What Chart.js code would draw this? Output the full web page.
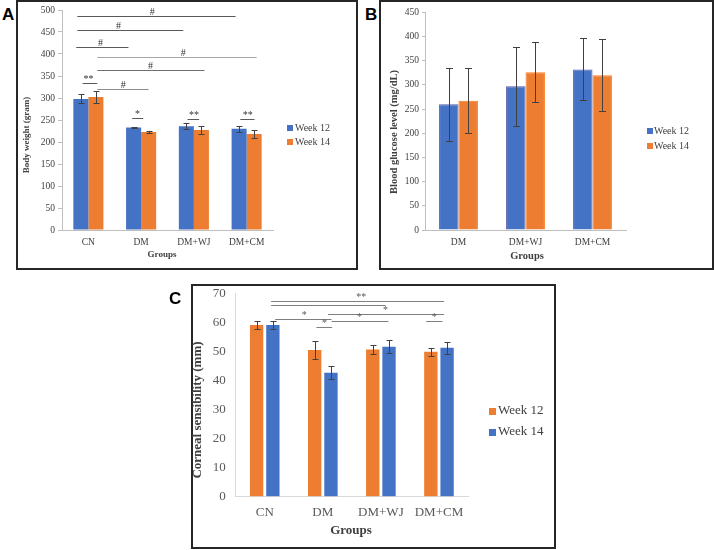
<!DOCTYPE html>
<html>
<head>
<meta charset="utf-8">
<title>Poids, glycémie et sensibilité cornéenne</title>
<script src="https://cdn.jsdelivr.net/npm/chart.js@4.4.1/dist/chart.umd.min.js"></script>
<style>
  html, body { margin: 0; padding: 0; background: #fff; }
  #page { position: relative; width: 714px; height: 550px; overflow: hidden; }
  .frame { position: absolute; box-sizing: border-box; border: 2px solid #262626; }
  canvas { position: absolute; }
  .letter { position: absolute; font: bold 17px "Liberation Sans", Arial, sans-serif; color: #000; }
</style>
</head>
<body>
<div id="page">
  <div class="frame" style="left:16px; top:0px; width:342px; height:270px;"></div>
  <div class="frame" style="left:379px; top:0px; width:335px; height:270px;"></div>
  <div class="frame" style="left:191px; top:284px; width:365px; height:265px;"></div>

  <canvas id="chartA" width="341" height="268" style="left:16px; top:1px;"></canvas>
  <canvas id="chartB" width="334" height="268" style="left:379px; top:1px;"></canvas>
  <canvas id="chartC" width="375" height="273" style="left:180px; top:275px;"></canvas>

  <div class="letter" style="left:2px; top:5px;">A</div>
  <div class="letter" style="left:365px; top:5px;">B</div>
  <div class="letter" style="left:169px; top:289px;">C</div>
</div>

<script>
// Panneau A : poids corporel (g)
const groupsA = ['CN', 'DM', 'DM+WJ', 'DM+CM'];
const weightWeek12 = [298, 233, 236, 230];
const weightWeek12Sd = [10, 2, 7, 7];
const weightWeek14 = [302, 223, 227, 218];
const weightWeek14Sd = [13, 2, 9, 10];

// Panneau B : glycémie (mg/dL)
const groupsB = ['DM', 'DM+WJ', 'DM+CM'];
const glucoseWeek12 = [260, 297, 332];
const glucoseWeek12Sd = [75, 81, 64];
const glucoseWeek14 = [267, 326, 320];
const glucoseWeek14Sd = [67, 62, 75];

// Panneau C : sensibilité cornéenne (mm)
const groupsC = ['CN', 'DM', 'DM+WJ', 'DM+CM'];
const cornealWeek12 = [59.1, 50.5, 50.7, 49.9];
const cornealWeek12Sd = [1.4, 3.1, 1.5, 1.4];
const cornealWeek14 = [59.1, 42.7, 51.6, 51.3];
const cornealWeek14Sd = [1.4, 2.2, 2.3, 2.1];

// Barres de significativité (positions en indice de groupe, hauteur en unités de l'axe)
const sigA = [
    { from: -0.21, to: 2.79, y: 486, text: '#', at: 1.21 },
    { from: -0.21, to: 1.80, y: 454, text: '#', at: 0.57 },
    { from: -0.23, to: 0.76, y: 415, text: '#', at: 0.23 },
    { from: 0.17, to: 3.19, y: 394, text: '#', at: 1.80 },
    { from: 0.17, to: 2.20, y: 363, text: '#', at: 1.18 },
    { from: 0.17, to: 1.14, y: 321, text: '#', at: 0.66 },
    { from: -0.11, to: 0.17, y: 335, text: '**', at: 0.0 },
    { from: 0.83, to: 1.04, y: 254, text: '*', at: 0.93 },
    { from: 1.88, to: 2.10, y: 253, text: '**', at: 2.0 },
    { from: 2.88, to: 3.15, y: 253, text: '**', at: 3.02 }
];
const sigC = [
    { from: 0.11, to: 3.09, y: 67.3, text: '**', at: 1.66 },
    { from: 0.11, to: 2.08, y: 66.0, text: '', at: 1.1 },
    { from: 1.09, to: 3.09, y: 62.9, text: '*', at: 2.08 },
    { from: 0.18, to: 1.15, y: 61.3, text: '*', at: 0.68 },
    { from: 1.15, to: 2.13, y: 60.5, text: '*', at: 1.63 },
    { from: 0.89, to: 1.16, y: 58.4, text: '*', at: 1.03 },
    { from: 2.78, to: 3.06, y: 60.5, text: '*', at: 2.92 }
];

const BLUE = '#4472C4';
const ORANGE = '#ED7D31';

// Barres d'erreur dessinées à partir de l'échelle Y
const errorBarsPlugin = {
    id: 'errorBars',
    afterDatasetsDraw(chart, args, opts) {
        const ctx = chart.ctx;
        const yScale = chart.scales.y;
        ctx.save();
        ctx.strokeStyle = opts.color;
        ctx.lineWidth = 1;
        chart.data.datasets.forEach((ds, di) => {
            const meta = chart.getDatasetMeta(di);
            meta.data.forEach((bar, i) => {
                const top = Math.round(yScale.getPixelForValue(ds.data[i] + ds.sd[i])) + 0.5;
                const bottom = Math.round(yScale.getPixelForValue(ds.data[i] - ds.sd[i])) + 0.5;
                const x = Math.round(bar.x) + 0.5;
                ctx.beginPath();
                ctx.moveTo(x, top);
                ctx.lineTo(x, bottom);
                ctx.moveTo(x - opts.cap, top);
                ctx.lineTo(x + opts.cap, top);
                ctx.moveTo(x - opts.cap, bottom);
                ctx.lineTo(x + opts.cap, bottom);
                ctx.stroke();
            });
        });
        ctx.restore();
    }
};

// Lignes de comparaison avec # et *
const significancePlugin = {
    id: 'significance',
    afterDatasetsDraw(chart, args, opts) {
        const marks = opts.marks || [];
        if (!marks.length) return;
        const ctx = chart.ctx;
        const xScale = chart.scales.x;
        const yScale = chart.scales.y;
        ctx.save();
        ctx.lineWidth = 1;
        ctx.font = opts.font;
        ctx.textAlign = 'center';
        ctx.textBaseline = 'alphabetic';
        marks.forEach((m, i) => {
            const py = Math.round(yScale.getPixelForValue(m.y)) + 0.5;
            ctx.strokeStyle = (opts.lineColors && opts.lineColors[i]) || opts.lineColor;
            ctx.beginPath();
            ctx.moveTo(xScale.getPixelForValue(m.from), py);
            ctx.lineTo(xScale.getPixelForValue(m.to), py);
            ctx.stroke();
            if (m.text) {
                ctx.fillStyle = opts.textColor;
                ctx.fillText(m.text, xScale.getPixelForValue(m.at), py - 2);
            }
        });
        ctx.restore();
    }
};

// Titres des axes et légende
const decorPlugin = {
    id: 'decor',
    afterDraw(chart, args, opts) {
        const ctx = chart.ctx;
        ctx.save();
        ctx.fillStyle = '#404040';
        ctx.font = opts.titleFont;
        ctx.textAlign = 'center';
        ctx.textBaseline = 'middle';
        ctx.fillText(opts.xTitle.text, opts.xTitle.x, opts.xTitle.y);
        ctx.translate(opts.yTitle.x, opts.yTitle.y);
        ctx.rotate(-Math.PI / 2);
        ctx.fillText(opts.yTitle.text, 0, 0);
        ctx.restore();

        ctx.save();
        ctx.font = opts.legendFont;
        ctx.textAlign = 'left';
        ctx.textBaseline = 'middle';
        chart.data.datasets.forEach((ds, i) => {
            const y = opts.legend.rows[i];
            const s = opts.legend.size;
            ctx.fillStyle = ds.backgroundColor;
            ctx.fillRect(opts.legend.x, Math.round(y - s / 2), s, s);
            ctx.fillStyle = '#404040';
            ctx.fillText(ds.label, opts.legend.textX, y);
        });
        ctx.restore();
    }
};

document.addEventListener('DOMContentLoaded', function() {
    Chart.defaults.font.family = '"Liberation Serif", "Times New Roman", serif';
    Chart.register(errorBarsPlugin, significancePlugin, decorPlugin);
    initCharts();
});

function buildChart(canvasId, p) {
    const canvas = document.getElementById(canvasId);
    return new Chart(canvas, {
        type: 'bar',
        data: { labels: p.labels, datasets: p.datasets },
        options: {
            responsive: false,
            animation: false,
            devicePixelRatio: 1,
            layout: { padding: { left: 0, top: p.padTop, right: p.padRight, bottom: 0 } },
            datasets: { bar: { categoryPercentage: p.catPct, barPercentage: p.barPct } },
            plugins: {
                legend: { display: false },
                tooltip: { enabled: false },
                errorBars: { color: '#404040', cap: p.cap },
                significance: p.significance || { marks: [] },
                decor: p.decor
            },
            scales: {
                x: {
                    grid: { display: false, drawTicks: false },
                    border: { color: p.axisColor },
                    ticks: { padding: p.xPad, color: p.tickColor, font: { size: p.tickSize } },
                    afterFit: function(scale) { scale.height = p.xHeight; }
                },
                y: {
                    min: 0,
                    max: p.yMax,
                    grid: {
                        drawOnChartArea: false,
                        drawTicks: p.tickLen > 0,
                        tickLength: p.tickLen,
                        color: p.axisColor
                    },
                    border: { color: p.axisColor },
                    ticks: { stepSize: p.yStep, padding: p.yPad, color: p.tickColor, font: { size: p.tickSize } },
                    afterFit: function(scale) { scale.width = p.yWidth; }
                }
            }
        }
    });
}

function initCharts() {
    // Graphique A : poids corporel
    window.chartA = buildChart('chartA', {
        labels: groupsA,
        datasets: [
            { label: 'Week 12', data: weightWeek12, sd: weightWeek12Sd, backgroundColor: BLUE },
            { label: 'Week 14', data: weightWeek14, sd: weightWeek14Sd, backgroundColor: ORANGE }
        ],
        yMax: 500, yStep: 50,
        padTop: 9, padRight: 84, yWidth: 46, xHeight: 39,
        catPct: 0.57, barPct: 1.0,
        tickSize: 9.5, tickColor: '#404040', tickLen: 4, yPad: 3, xPad: 7,
        axisColor: '#bfbfbf', cap: 3,
        significance: {
            marks: sigA,
            font: '10px "Liberation Serif", serif',
            textColor: '#333333',
            lineColor: '#595959',
            lineColors: ['#595959', '#595959', '#595959', '#a6a6a6', '#6f6f6f', '#8c8c8c', '#595959', '#595959', '#595959', '#595959']
        },
        decor: {
            titleFont: 'bold 9px "Liberation Serif", serif',
            legendFont: '10px "Liberation Serif", serif',
            xTitle: { text: 'Groups', x: 146, y: 254 },
            yTitle: { text: 'Body weight (gram)', x: 11, y: 134 },
            legend: { x: 271, textX: 279, rows: [127, 141], size: 6 }
        }
    });

    // Graphique B : glycémie
    window.chartB = buildChart('chartB', {
        labels: groupsB,
        datasets: [
            { label: 'Week 12', data: glucoseWeek12, sd: glucoseWeek12Sd, backgroundColor: BLUE, borderColor: '#5a5aa6', borderWidth: 1 },
            { label: 'Week 14', data: glucoseWeek14, sd: glucoseWeek14Sd, backgroundColor: ORANGE, borderColor: '#ff7a1a', borderWidth: 1 }
        ],
        yMax: 450, yStep: 50,
        padTop: 11.3, padRight: 87, yWidth: 46, xHeight: 39,
        catPct: 0.58, barPct: 1.0,
        tickSize: 9.5, tickColor: '#404040', tickLen: 3, yPad: 3, xPad: 6.6,
        axisColor: '#bfbfbf', cap: 3.5,
        decor: {
            titleFont: 'bold 10.5px "Liberation Serif", serif',
            legendFont: '10px "Liberation Serif", serif',
            xTitle: { text: 'Groups', x: 148, y: 255 },
            yTitle: { text: 'Blood glucose level (mg/dL)', x: 15, y: 131 },
            legend: { x: 268, textX: 275, rows: [130, 145], size: 6 }
        }
    });

    // Graphique C : sensibilité cornéenne
    window.chartC = buildChart('chartC', {
        labels: groupsC,
        datasets: [
            { label: 'Week 12', data: cornealWeek12, sd: cornealWeek12Sd, backgroundColor: ORANGE },
            { label: 'Week 14', data: cornealWeek14, sd: cornealWeek14Sd, backgroundColor: BLUE }
        ],
        yMax: 70, yStep: 10,
        padTop: 18.3, padRight: 87, yWidth: 55.7, xHeight: 51.3,
        catPct: 0.56, barPct: 0.82,
        tickSize: 13, tickColor: '#595959', tickLen: 0, yPad: 10, xPad: 8.5,
        axisColor: '#d9d9d9', cap: 3,
        significance: {
            marks: sigC,
            font: '10px "Liberation Serif", serif',
            textColor: '#595959',
            lineColor: '#7f7f7f'
        },
        decor: {
            titleFont: 'bold 13px "Liberation Serif", serif',
            legendFont: '13px "Liberation Serif", serif',
            xTitle: { text: 'Groups', x: 171, y: 256 },
            yTitle: { text: 'Corneal sensibility (mm)', x: 18, y: 135 },
            legend: { x: 309, textX: 318, rows: [136, 157], size: 7 }
        }
    });
}
</script>
</body>
</html>
